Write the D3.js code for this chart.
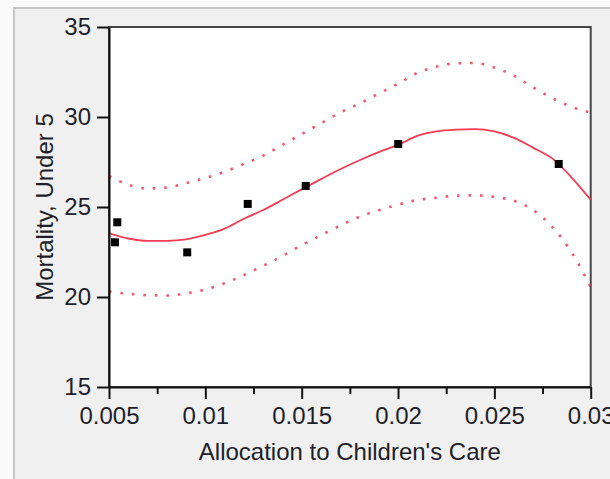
<!DOCTYPE html>
<html><head><meta charset="utf-8">
<script src="https://cdn.jsdelivr.net/npm/d3@7"></script>
<style>
html,body{margin:0;padding:0;background:#fafafa;}
svg{display:block;font-family:"Liberation Sans",Arial,sans-serif;}
</style></head>
<body>
<svg id="c" width="610" height="479"></svg>
<script>
// Observed points
const pointX = [0.00531, 0.00543, 0.00906, 0.0122, 0.01521, 0.02001, 0.02834];
const pointY = [23.04, 24.15, 22.48, 25.17, 26.17, 28.5, 27.39];
// Fitted curve and confidence band
const curveX = [0.005,0.006,0.007,0.008,0.009,0.010,0.011,0.012,0.013,0.014,0.015,0.016,0.017,0.018,0.019,0.020,0.021,0.022,0.023,0.024,0.025,0.026,0.027,0.028,0.029,0.030];
const fitY   = [23.54,23.25,23.12,23.12,23.2,23.45,23.8,24.35,24.83,25.4,25.98,26.55,27.1,27.6,28.05,28.45,28.95,29.2,29.3,29.33,29.2,28.85,28.3,27.7,26.65,25.4];
const upperY = [26.72,26.24,26.03,26.08,26.33,26.61,26.96,27.39,27.85,28.45,29.05,29.65,30.25,30.75,31.3,31.85,32.45,32.8,32.98,33.0,32.75,32.3,31.65,31.05,30.57,30.24];
const lowerY = [20.3,20.18,20.1,20.08,20.2,20.42,20.76,21.22,21.73,22.28,22.88,23.43,23.97,24.46,24.82,25.13,25.39,25.51,25.63,25.65,25.56,25.35,24.84,23.9,22.5,20.56];
// Axes
const xTicks = [0.005,0.01,0.015,0.02,0.025,0.03];
const xTickLabels = ["0.005","0.01","0.015","0.02","0.025","0.03"];
const xMinorTicks = [0.0075,0.0125,0.0175,0.0225,0.0275];
const yTicks = [15,20,25,30,35];
const yTickLabels = ["15","20","25","30","35"];
const xTitle = "Allocation to Children's Care";
const yTitle = "Mortality, Under 5";

const svg = d3.select("#c");
const L = 109, R = 590.7, T = 27, B = 387;
const x = d3.scaleLinear().domain([0.005,0.03]).range([L,R]);
const y = d3.scaleLinear().domain([15,35]).range([B,T]);

// outer panel
svg.append("rect").attr("x",14).attr("y",8).attr("width",610).attr("height",479)
  .attr("fill","#f0f0f0").attr("stroke","#c6c6c6").attr("stroke-width",2);

// plot area
svg.append("rect").attr("x",L).attr("y",T).attr("width",R-L).attr("height",B-T)
  .attr("fill","#fff").attr("stroke","#454545").attr("stroke-width",2);

svg.append("clipPath").attr("id","clip").append("rect")
  .attr("x",L).attr("y",T).attr("width",R-L).attr("height",B-T);

const g = svg.append("g").attr("clip-path","url(#clip)");
const red = "#f03c55";
function line(arr){
  return d3.line().x((d,i)=>x(curveX[i])).y(d=>y(d)).curve(d3.curveMonotoneX)(arr);
}
g.append("path").attr("d",line(upperY)).attr("fill","none").attr("stroke",red)
  .attr("stroke-width",2.6).attr("stroke-dasharray","2.6,8.9").attr("opacity",0.85);
g.append("path").attr("d",line(lowerY)).attr("fill","none").attr("stroke",red)
  .attr("stroke-width",2.6).attr("stroke-dasharray","2.6,8.9").attr("opacity",0.85);
g.append("path").attr("d",line(fitY)).attr("fill","none").attr("stroke",red)
  .attr("stroke-width",1.8);

// points
const s = 8;
svg.append("g").selectAll("rect").data(pointX).join("rect")
  .attr("x",(d)=>x(d)-s/2).attr("y",(d,i)=>y(pointY[i])-s/2)
  .attr("width",s).attr("height",s).attr("fill","#000");

// x axis
const xAxis = d3.axisBottom(x).tickValues(xTicks).tickSize(12).tickSizeOuter(0).tickPadding(8)
  .tickFormat((d,i)=>xTickLabels[i]);
const gx = svg.append("g").attr("transform",`translate(0,${B})`).call(xAxis);
const xMinor = d3.axisBottom(x).tickValues(xMinorTicks).tickSize(7).tickSizeOuter(0).tickFormat("");
const gxm = svg.append("g").attr("transform",`translate(0,${B})`).call(xMinor);
gxm.select(".domain").remove();

// y axis
const yAxis = d3.axisLeft(y).tickValues(yTicks).tickSize(12).tickSizeOuter(0).tickPadding(6)
  .tickFormat((d,i)=>yTickLabels[i]);
const gy = svg.append("g").attr("transform",`translate(${L},0)`).call(yAxis);

[gx,gy,gxm].forEach(a=>{
  a.selectAll("line").attr("stroke","#111").attr("stroke-width",2);
  a.selectAll(".domain").attr("stroke","#111").attr("stroke-width",2);
  a.selectAll("text").attr("font-size",24).attr("fill","#1e1e28")
    .attr("font-family","'Liberation Sans',Arial,sans-serif");
});

svg.append("text").attr("x",(L+R)/2).attr("y",460).attr("text-anchor","middle")
  .attr("font-size",24).attr("fill","#1e1e28").text(xTitle);
svg.append("text").attr("transform",`translate(53,${(T+B)/2}) rotate(-90)`)
  .attr("text-anchor","middle").attr("font-size",24).attr("fill","#1e1e28").text(yTitle);
</script>
</body></html>
